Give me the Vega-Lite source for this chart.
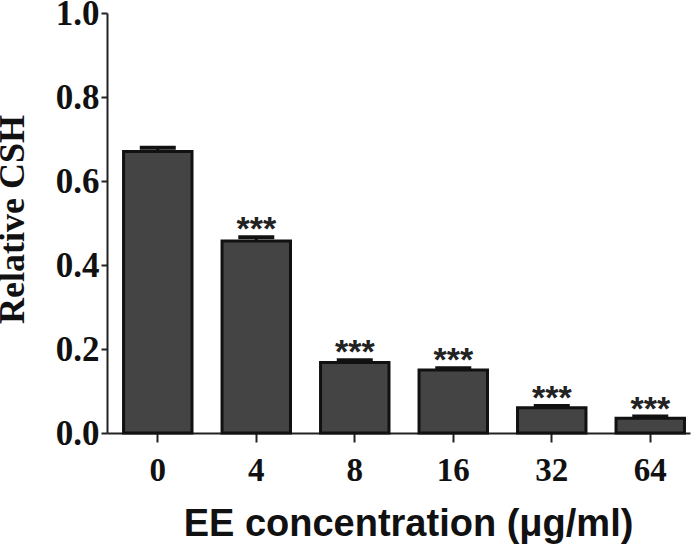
{
  "$schema": "https://vega.github.io/schema/vega-lite/v6.json",
  "width": 583,
  "height": 420,
  "autosize": "none",
  "padding": {"left": 107, "top": 13, "right": 10, "bottom": 114},
  "background": "white",
  "config": {"view": {"stroke": null}},
  "data": {
    "values": [
      {"conc": "0", "mean": 0.670, "upper": 0.679, "sig": ""},
      {"conc": "4", "mean": 0.457, "upper": 0.466, "sig": "***"},
      {"conc": "8", "mean": 0.168, "upper": 0.173, "sig": "***"},
      {"conc": "16", "mean": 0.150, "upper": 0.154, "sig": "***"},
      {"conc": "32", "mean": 0.060, "upper": 0.064, "sig": "***"},
      {"conc": "64", "mean": 0.035, "upper": 0.039, "sig": "***"}
    ]
  },
  "encoding": {
    "x": {
      "field": "conc",
      "type": "ordinal",
      "sort": null,
      "scale": {"paddingInner": 0.305, "paddingOuter": 0.112, "align": 0.75},
      "axis": {
        "title": "EE concentration (μg/ml)",
        "titleFont": "Liberation Sans",
        "titleFontSize": 38,
        "titleFontWeight": "bold",
        "titleColor": "#111",
        "titleBaseline": "alphabetic",
        "titleX": 301,
        "titleY": 102,
        "titleAnchor": null,
        "labelFont": "Liberation Serif",
        "labelFontWeight": "bold",
        "labelFontSize": 33,
        "labelColor": "#111",
        "labelAngle": 0,
        "labelPadding": 12,
        "tickSize": 9,
        "tickWidth": 2,
        "tickColor": "#222",
        "domainWidth": 2,
        "domainColor": "#222",
        "grid": false
      }
    }
  },
  "layer": [
    {
      "mark": {"type": "bar", "fill": "#444444", "stroke": "#111", "strokeWidth": 3},
      "encoding": {
        "y": {
          "field": "mean",
          "type": "quantitative",
          "scale": {"domain": [0, 1], "nice": false},
          "axis": {
            "title": "Relative CSH",
            "titleFont": "Liberation Serif",
            "titleFontSize": 36,
            "titleFontWeight": "bold",
            "titleColor": "#111",
            "titleAngle": -90,
            "titleBaseline": "alphabetic",
            "titleAlign": "center",
            "titleX": -84,
            "titleY": 206,
            "titleAnchor": null,
            "values": [0, 0.2, 0.4, 0.6, 0.8, 1.0],
            "format": ".1f",
            "labelFont": "Liberation Serif",
            "labelFontWeight": "bold",
            "labelFontSize": 35,
            "labelColor": "#111",
            "labelPadding": 2,
            "tickSize": 6,
            "tickWidth": 2,
            "tickColor": "#222",
            "domainWidth": 2,
            "domainColor": "#222",
            "grid": false
          }
        }
      }
    },
    {
      "mark": {"type": "rule", "stroke": "#111", "strokeWidth": 3},
      "encoding": {
        "y": {"field": "mean", "type": "quantitative"},
        "y2": {"field": "upper"}
      }
    },
    {
      "mark": {"type": "tick", "color": "#111", "thickness": 4, "size": 36, "opacity": 1},
      "encoding": {
        "y": {"field": "upper", "type": "quantitative"}
      }
    },
    {
      "mark": {"type": "text", "font": "Liberation Sans", "fontSize": 34, "fontWeight": "bold", "baseline": "alphabetic", "align": "center", "dy": 3, "color": "#222"},
      "encoding": {
        "y": {"field": "upper", "type": "quantitative"},
        "text": {"field": "sig"}
      }
    }
  ]
}
